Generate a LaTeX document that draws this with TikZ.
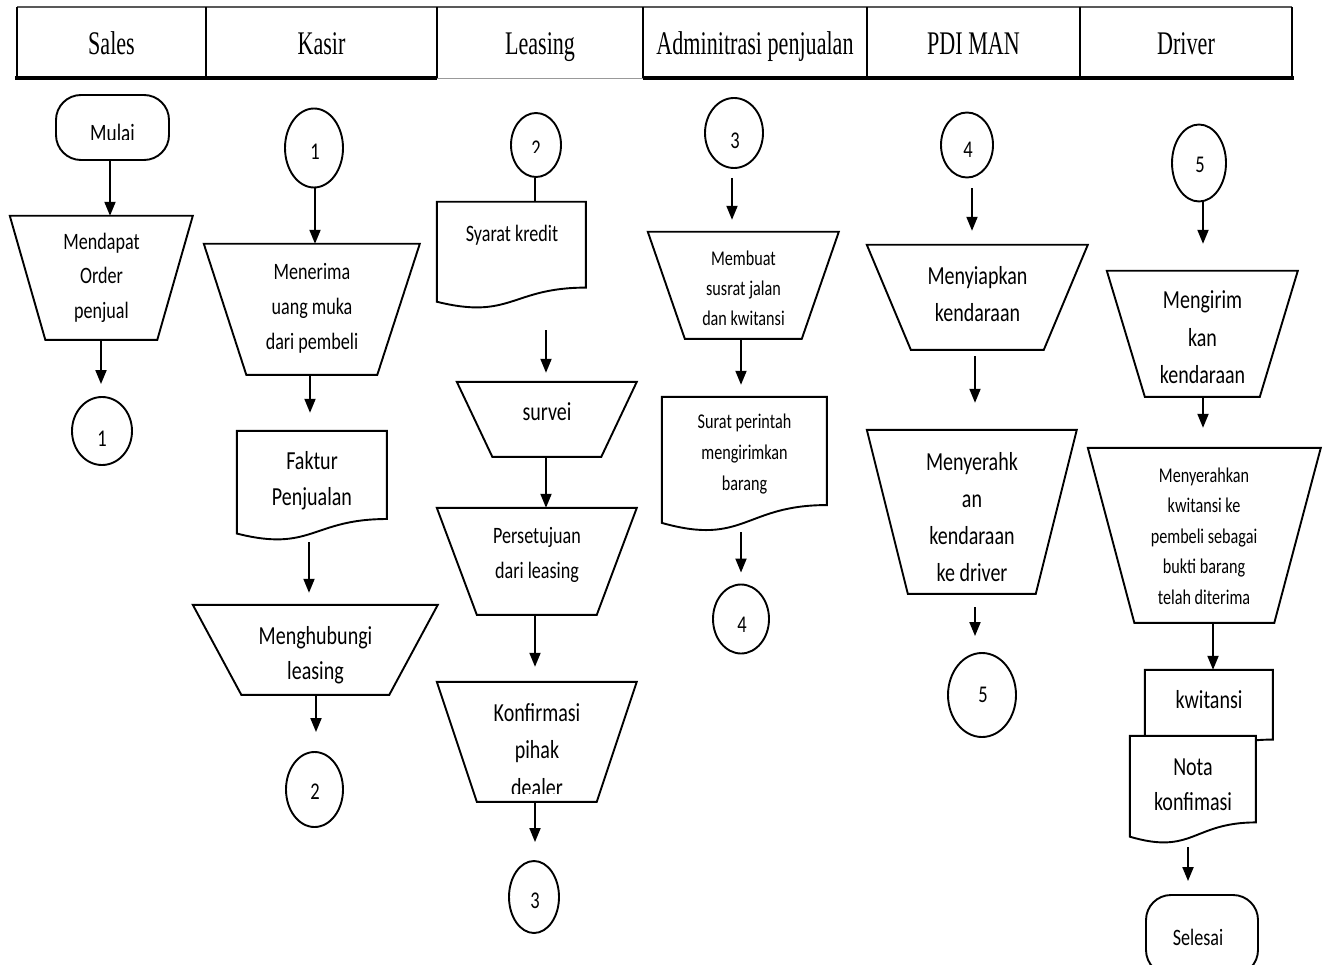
\documentclass[tikz,border=0pt]{standalone}
\usepackage{fontspec}
\setmainfont[FakeStretch=0.77]{Carlito}
\newfontfamily\headfont[FakeStretch=0.67]{Liberation Serif}
\usetikzlibrary{arrows.meta,shapes.geometric,calc}

\tikzset{
  shapeline/.style={line width=1.9pt, draw=black, fill=white, line join=miter},
  frame/.style 2 args={rectangle, inner sep=0pt, minimum width=#1pt, minimum height=#2pt},
  oval/.style 2 args={ellipse, shapeline, inner sep=0pt, minimum width=#1pt, minimum height=#2pt},
  terminal/.style 2 args={rectangle, shapeline, rounded corners=25pt, inner sep=0pt, minimum width=#1pt, minimum height=#2pt},
  words/.style 2 args={inner sep=0pt, align=center, font={\fontsize{#1}{#2}\selectfont}},
  lanehead/.style={inner sep=0pt, anchor=base, font={\headfont\fontsize{33}{36}\selectfont}},
  flow/.style={line width=1.9pt, -{Triangle[width=11pt,length=14pt]}},
  link/.style={line width=1.9pt},
}

% inverted trapezoid (manual operation) on a frame node: node, top width, bottom width, height
\newcommand\trapz[4]{\draw[shapeline, shift={(#1.north west)}] (0,0) -- (#2,0) -- ({(#2+#3)/2},#4) -- ({(#2-#3)/2},#4) -- cycle;}
% document symbol with wavy bottom: node, width, height
\newcommand\docsh[3]{\draw[shapeline, shift={(#1.north west)}] (0,0) -- (#2,0) -- (#2,{0.802*#3}) .. controls ({0.5*#2},{0.802*#3}) and ({0.5*#2},{1.107*#3}) .. (0,{0.934*#3}) -- cycle;}
% vertical connector: style, from, to, x offset, gap at start, gap at end
\newcommand\vflow[6]{\draw[#1, shorten <=#5pt, shorten >=#6pt] ($(#2.south)+(#4,0)$) -- ($(#2.south |- #3.north)+(#4,0)$);}

\begin{document}
\begin{tikzpicture}[x=1pt,y=-1pt]
\useasboundingbox (0,0) rectangle (1329,965);
\clip (0,0) rectangle (1329,965);
\fill[white] (0,0) rectangle (1329,965);

% ---- lane headings ----
\draw[line width=1.5pt, black!65] (17,7) -- (1292,7);
\foreach \x in {17,206,437,643,867,1080,1292} \draw[line width=1.3pt] (\x,7) -- (\x,78);
\draw[line width=3.2pt] (15.4,78) -- (437,78) (643,78) -- (1293.6,78);
\draw[line width=1.6pt, black!40] (437,78.5) -- (643,78.5);
\node[lanehead] (lane-sales) at (111.5,55) {Sales};
\node[lanehead] (lane-kasir) at (321.5,55) {Kasir};
\node[lanehead] (lane-leasing) at (540,55) {Leasing};
\node[lanehead] (lane-admin) at (755,55) {Adminitrasi penjualan};
\node[lanehead] (lane-pdi) at (973.5,55) {PDI MAN};
\node[lanehead] (lane-driver) at (1186,55) {Driver};

% ---- Sales ----
\node[terminal={113}{65}] (mulai) at (112.5,127.5) {};
\begin{scope}
  \clip (56,95) rectangle (169,139.5);
  \node[words={25}{30}, anchor=base] (mulai-t) at (112.5,142) {Mulai};
\end{scope}
\node[frame={183}{124}] (order) at (101.5,278) {};
\trapz{order}{183}{112}{124}
\node[words={23.5}{34.5}] (order-t) at (101.5,277.5) {Mendapat\\Order\\penjual};
\node[oval={60}{68}] (s1) at (102,431) {};
\node[words={24}{28}] (s1-t) at (102,439) {1};

% ---- Kasir ----
\node[oval={58}{79}] (k1) at (314,148) {};
\node[words={24}{28}] (k1-t) at (315,152) {1};
\node[frame={216}{131}] (terima) at (312,309.5) {};
\trapz{terima}{216}{131}{131}
\node[words={23.5}{35}] (terima-t) at (312,308.5) {Menerima\\uang muka\\dari pembeli};
\node[frame={150}{110}] (faktur) at (312,486) {};
\docsh{faktur}{150}{110}
\node[words={26}{36}] (faktur-t) at (312,481) {Faktur\\Penjualan};
\node[frame={245}{90}] (hubungi) at (315.5,650) {};
\trapz{hubungi}{245}{148}{90}
\begin{scope}
  \clip (190,600) rectangle (440,685);
  \node[words={26}{35}] (hubungi-t) at (315.5,655) {Menghubungi\\leasing};
\end{scope}
\node[oval={57}{75}] (k2) at (314.5,789.5) {};
\node[words={24}{28}] (k2-t) at (315,792) {2};

% ---- Leasing ----
\node[oval={50}{64}] (l2) at (536,145) {};
\begin{scope}
  \clip (511,113) rectangle (561,153);
  \node[words={24}{28}, anchor=base] (l2-t) at (536,157) {2};
\end{scope}
\node[frame={149}{107}] (syarat) at (511.5,255.5) {};
\docsh{syarat}{149}{107}
\node[words={23.5}{28}] (syarat-t) at (512,235) {Syarat kredit};
\node[frame={180}{75}] (survei) at (547,419.5) {};
\trapz{survei}{180}{109}{75}
\node[words={26}{30}] (survei-t) at (547,412) {survei};
\node[frame={200}{107}] (setuju) at (537,561.5) {};
\trapz{setuju}{200}{120}{107}
\node[words={23.5}{35}] (setuju-t) at (537,555) {Persetujuan\\dari leasing};
\node[frame={200}{120}] (konfirm) at (537,742) {};
\trapz{konfirm}{200}{120}{120}
\begin{scope}
  \clip (437,682) rectangle (637,793);
  \node[words={26}{37.5}] (konfirm-t) at (537,750) {Konfirmasi\\pihak\\dealer};
\end{scope}
\node[oval={50}{72}] (l3) at (534,897) {};
\node[words={24}{28}] (l3-t) at (535,901) {3};

% ---- Adminitrasi penjualan ----
\node[oval={58}{70}] (a3) at (734,133) {};
\node[words={24}{28}] (a3-t) at (735,141) {3};
\node[frame={191}{107}] (jalan) at (743.5,285.5) {};
\trapz{jalan}{191}{117}{107}
\node[words={21}{30}] (jalan-t) at (743.5,288) {Membuat\\susrat jalan\\dan kwitansi};
\node[frame={165}{135}] (perintah) at (744.5,464.5) {};
\docsh{perintah}{165}{135}
\begin{scope}
  \clip (662,397) rectangle (827,493);
  \node[words={21}{31}] (perintah-t) at (744.5,454) {Surat perintah\\mengirimkan\\barang};
\end{scope}
\node[oval={56}{69}] (a4) at (741,619) {};
\node[words={24}{28}] (a4-t) at (742,625) {4};

% ---- PDI MAN ----
\node[oval={52}{65}] (p4) at (967,145) {};
\node[words={24}{28}] (p4-t) at (968,150) {4};
\node[frame={221}{105}] (siapkan) at (977.5,297.5) {};
\trapz{siapkan}{221}{133}{105}
\node[words={26}{37}] (siapkan-t) at (977.5,294) {Menyiapkan\\kendaraan};
\node[frame={210}{164}] (serah) at (972,512) {};
\trapz{serah}{210}{128}{164}
\node[words={26}{37}] (serah-t) at (972,517.5) {Menyerahk\\an\\kendaraan\\ke driver};
\node[oval={68}{84}] (p5) at (982,695) {};
\node[words={24}{28}] (p5-t) at (983,695) {5};

% ---- Driver ----
\node[oval={54}{77}] (d5) at (1199,163) {};
\node[words={24}{28}] (d5-t) at (1200,165) {5};
\node[frame={191}{126}] (kirim) at (1202.5,334) {};
\trapz{kirim}{191}{115}{126}
\node[words={26}{37.5}] (kirim-t) at (1202.5,337.5) {Mengirim\\kan\\kendaraan};
\node[frame={233}{175}] (bukti) at (1204.5,535.5) {};
\trapz{bukti}{233}{140}{175}
\node[words={21}{30.5}] (bukti-t) at (1204,536) {Menyerahkan\\kwitansi ke\\pembeli sebagai\\bukti barang\\telah diterima};
\node[frame={128}{87}] (kwit) at (1209,713.5) {};
\docsh{kwit}{128}{87}
\node[words={26}{30}] (kwit-t) at (1209,700) {kwitansi};
\node[frame={126}{108}] (nota) at (1193,790) {};
\docsh{nota}{126}{108}
\node[words={26}{35}] (nota-t) at (1193,784.5) {Nota\\konfimasi};
\node[terminal={112}{80}] (selesai) at (1202,935) {};
\node[words={23.5}{28}] (selesai-t) at (1198,937) {Selesai};

% ---- connectors ----
\vflow{flow}{mulai}{order}{-2.5}{0}{0}
\vflow{flow}{order}{s1}{-0.5}{0}{12}
\vflow{flow}{k1}{terima}{1}{0}{0}
\vflow{flow}{terima}{faktur}{-2}{0}{18}
\vflow{flow}{faktur}{hubungi}{-3}{1}{12}
\vflow{flow}{hubungi}{k2}{0.5}{0}{19}
\vflow{link}{l2}{syarat}{-1}{0}{0}
\vflow{flow}{syarat}{survei}{34.5}{21}{9}
\vflow{flow}{survei}{setuju}{-1}{0}{0}
\vflow{flow}{setuju}{konfirm}{-2}{0}{15}
\vflow{flow}{konfirm}{l3}{-2}{0}{18}
\vflow{flow}{a3}{jalan}{-2}{9}{12}
\vflow{flow}{jalan}{perintah}{-2.5}{0}{12}
\vflow{flow}{perintah}{a4}{-3.5}{0}{11}
\vflow{flow}{p4}{siapkan}{5}{10}{14}
\vflow{flow}{siapkan}{serah}{-2.5}{6}{27}
\vflow{flow}{serah}{p5}{3}{13}{16}
\vflow{flow}{d5}{kirim}{4}{0}{27}
\vflow{flow}{kirim}{bukti}{0.5}{0}{20}
\vflow{flow}{bukti}{kwit}{8.5}{0}{0}
\vflow{flow}{nota}{selesai}{-5}{3}{13}
\end{tikzpicture}
\end{document}
